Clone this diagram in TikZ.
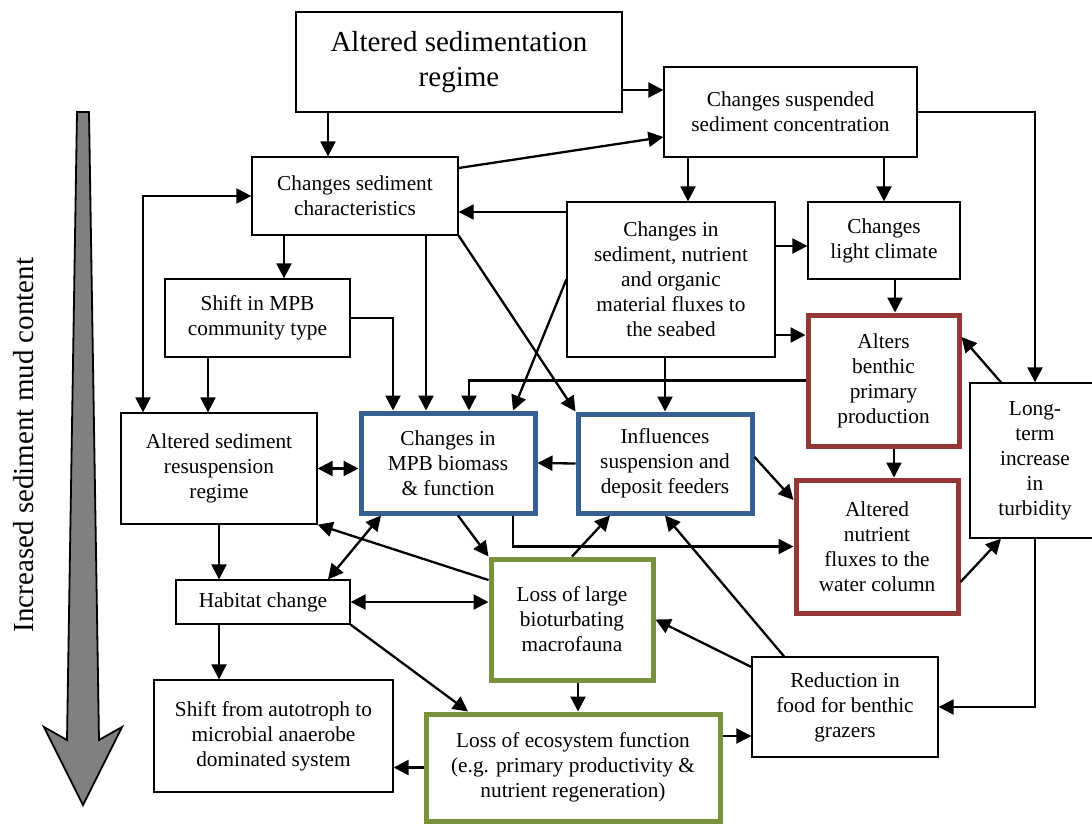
\documentclass[tikz,border=0pt]{standalone}
\usepackage{fontspec}
\setmainfont{Liberation Serif}
\usetikzlibrary{arrows.meta}

\definecolor{mpbblue}{RGB}{55,96,146}
\definecolor{prodred}{RGB}{149,55,53}
\definecolor{faunagreen}{RGB}{119,147,60}

\tikzset{
box/.style={draw=black, line width=1.3pt, align=center, inner sep=0pt, font=\fontsize{21.3}{25}\selectfont},
bluebox/.style={box, draw=mpbblue, line width=5pt},
redbox/.style={box, draw=prodred, line width=5pt},
greenbox/.style={box, draw=faunagreen, line width=5pt},
arr/.style={-{Triangle[length=15pt,width=15pt]}, line width=2.3pt},
darr/.style={{Triangle[length=15pt,width=15pt]}-{Triangle[length=15pt,width=15pt]}, line width=2.3pt}
}

\begin{document}
\begin{tikzpicture}[x=1pt,y=-1pt]
\useasboundingbox (0,0) rectangle (1092,823);

% big arrow on the left
\draw[line width=1.8pt, fill=gray] (77,112) -- (89,112) -- (99,740) -- (122,727) -- (83,805) -- (44,727) -- (67,740) -- cycle;
\node[rotate=90, anchor=base, font=\fontsize{29}{35}\selectfont] (mudlabel) at (33,445) {Increased sediment mud content};

\node[box, minimum width=326, minimum height=100, font=\fontsize{29}{35}\selectfont] (regime) at (459,62) {Altered sedimentation\\regime};
\node[box, minimum width=253, minimum height=90] (ssc) at (790.5,112) {Changes suspended\\sediment concentration};
\node[box, minimum width=206, minimum height=78] (csc) at (355,196) {Changes sediment\\characteristics};
\node[box, minimum width=208, minimum height=155] (flux) at (671,279.5) {Changes in\\sediment, nutrient\\and organic\\material fluxes to\\the seabed};
\node[box, minimum width=152, minimum height=77] (light) at (884,240.5) {Changes\\light climate};
\node[redbox, minimum width=151, minimum height=131] (abpp) at (883.5,380.5) {Alters\\benthic\\primary\\production};
\node[box, minimum width=185, minimum height=78] (shift) at (257.5,318) {Shift in MPB\\community type};
\node[box, minimum width=196, minimum height=111] (resus) at (219,468.5) {Altered sediment\\resuspension\\regime};
\node[bluebox, minimum width=174, minimum height=100] (mpb) at (448,463) {Changes in\\MPB biomass\\\& function};
\node[bluebox, minimum width=174, minimum height=99] (infl) at (665,463.5) {Influences\\suspension and\\deposit feeders};
\node[redbox, minimum width=162, minimum height=133] (anf) at (877,546.5) {Altered\\nutrient\\fluxes to the\\water column};
\node[box, minimum width=130, minimum height=155] (turb) at (1035,460.5) {Long-\\term\\increase\\in\\turbidity};
\node[box, minimum width=174, minimum height=44] (hab) at (263,602) {Habitat change};
\node[greenbox, minimum width=162, minimum height=121] (loss) at (572,619.5) {Loss of large\\bioturbating\\macrofauna};
\node[box, minimum width=186, minimum height=100] (food) at (845,707) {Reduction in\\food for benthic\\grazers};
\node[box, minimum width=239, minimum height=112] (auto) at (273.5,736) {Shift from autotroph to\\microbial anaerobe\\dominated system};
\node[greenbox, minimum width=294, minimum height=107] (eco) at (573,767.5) {Loss of ecosystem function\\(e.g. primary productivity \&\\nutrient regeneration)};

\draw[arr] ([xshift=-131pt]regime.south) -- ([xshift=-27pt]csc.north);
\draw[arr] ([yshift=-28pt]regime.east) -- ([yshift=22pt]ssc.west);
\draw[arr] ([yshift=28pt]csc.east) -- ([yshift=-25pt]ssc.west);
\draw[arr] ([xshift=-102.5pt]ssc.south) -- ([xshift=17pt]flux.north);
\draw[arr] ([xshift=93.5pt]ssc.south) -- (light.north);
\draw[arr] (ssc.east) -| (turb.north);
\draw[arr] ([yshift=67.5pt]flux.west) -- ([yshift=-16pt]csc.east);
\draw[arr] ([yshift=33.5pt]flux.east) -- ([yshift=-5.5pt]light.west);
\draw[arr] ([yshift=-55.5pt]flux.east) -- ([yshift=45.5pt]abpp.west);
\draw[arr] ([xshift=11pt]light.south) -- ([xshift=11.5pt]abpp.north);
\draw[arr] ([xshift=-6pt]flux.south) -- (infl.north);
\draw[arr] (flux.west) -- ([xshift=65pt]mpb.north);
\draw[arr] (csc.south east) -- (infl.north west);
\draw[arr] ([xshift=71pt]csc.south) -- ([xshift=-22pt]mpb.north);
\draw[arr] ([xshift=-71pt]csc.south) -- ([xshift=26.5pt]shift.north);
\draw[darr] (csc.west) -| ([xshift=-76pt]resus.north);
\draw[arr] ([xshift=-49.5pt]shift.south) -- ([xshift=-11pt]resus.north);
\draw[arr] (shift.east) -| ([xshift=-55pt]mpb.north);
\draw[arr] (abpp.west) -| ([xshift=21pt]mpb.north);
\draw[arr] (infl.west) -- (mpb.east);
\draw[darr] (resus.east) -- ([yshift=-5.5pt]mpb.west);
\draw[arr] ([yshift=6.5pt]infl.east) -- ([yshift=46.5pt]anf.west);
\draw[arr] ([xshift=10.5pt]abpp.south) -- ([xshift=17pt]anf.north);
\draw[arr] ([xshift=65pt]mpb.south) |- (anf.west);
\draw[arr] ([yshift=-35.5pt]anf.east) -- ([xshift=-34pt]turb.south);
\draw[arr] ([xshift=-34pt]turb.north) -- ([yshift=43.5pt]abpp.east);
\draw[arr] (turb.south) |- (food.east);
\draw[arr] ([yshift=40pt]food.west) -- (loss.east);
\draw[arr] ([xshift=-61pt]food.north) -- (infl.south);
\draw[arr] (loss.north) -- ([xshift=-55pt]infl.south);
\draw[arr] ([xshift=10pt]mpb.south) -- (loss.north west);
\draw[darr] (hab.east) -- ([yshift=17.5pt]loss.west);
\draw[arr] ([yshift=39.5pt]loss.west) -- (resus.south east);
\draw[darr] ([xshift=-67pt]mpb.south) -- ([xshift=65pt]hab.north);
\draw[arr] (resus.south) -- ([xshift=-44pt]hab.north);
\draw[arr] ([xshift=-44pt]hab.south) -- ([xshift=-54.5pt]auto.north);
\draw[arr] (hab.south east) -- ([xshift=-105pt]eco.north);
\draw[arr] ([xshift=6pt]loss.south) -- ([xshift=5pt]eco.north);
\draw[arr] (eco.west) -- ([yshift=-31.5pt]auto.east);
\draw[arr] ([yshift=31.5pt]eco.east) -- ([yshift=-29pt]food.west);
%\draw[arr] (turb.west) -- (anf.east);
\end{tikzpicture}
\end{document}
